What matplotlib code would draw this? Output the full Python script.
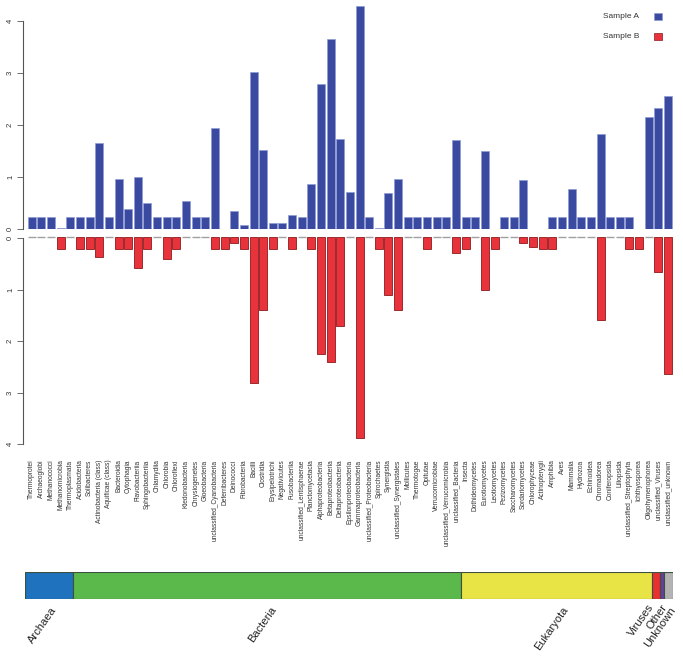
import matplotlib
matplotlib.use("Agg")
import matplotlib.pyplot as plt
import matplotlib.transforms as mtransforms
from matplotlib.patches import Rectangle
import numpy as np

plt.rcParams['font.family'] = ['Liberation Sans', 'DejaVu Sans']

categories = [
    "Thermoprotei", "Archaeoglobi", "Methanococci", "Methanomicrobia", "Thermoplasmata",
    "Acidobacteria", "Solibacteres", "Actinobacteria (class)", "Aquificae (class)", "Bacteroidia",
    "Cytophagia", "Flavobacteriia", "Sphingobacteriia", "Chlamydiia", "Chlorobia",
    "Chloroflexi", "Ktedonobacteria", "Chrysiogenetes", "Gloeobacteria", "unclassified_Cyanobacteria",
    "Deferribacteres", "Deinococci", "Fibrobacteria", "Bacilli", "Clostridia",
    "Erysipelotrichi", "Negativicutes", "Fusobacteriia", "unclassified_Lentisphaerae", "Planctomycetacia",
    "Alphaproteobacteria", "Betaproteobacteria", "Deltaproteobacteria", "Epsilonproteobacteria", "Gammaproteobacteria",
    "unclassified_Proteobacteria", "Spirochaetes", "Synergistia", "unclassified_Synergistales", "Mollicutes",
    "Thermotogae", "Opitutae", "Verrucomicrobiae", "unclassified_Verrucomicrobia", "unclassified_Bacteria",
    "Insecta", "Dothideomycetes", "Eurotiomycetes", "Leotiomycetes", "Pezizomycetes",
    "Saccharomycetes", "Sordariomycetes", "Chlorophyceae", "Actinopterygii", "Amphibia",
    "Aves", "Mammalia", "Hydrozoa", "Echinoidea", "Chromadorea",
    "Coniferopsida", "Liliopsida", "unclassified_Streptophyta", "Ichthyosporea", "Oligohymenophorea",
    "unclassified_Viruses", "unclassified_unknown",
]

sample_a = [
    0.23, 0.23, 0.23, 0.025, 0.23, 0.23, 0.23, 1.65, 0.23, 0.96,
    0.38, 1.01, 0.50, 0.23, 0.23, 0.23, 0.54, 0.23, 0.23, 1.94,
    0.0, 0.35, 0.08, 3.02, 1.52, 0.13, 0.13, 0.27, 0.23, 0.87,
    2.79, 3.64, 1.73, 0.72, 4.28, 0.23, 0.025, 0.69, 0.97, 0.23,
    0.23, 0.23, 0.23, 0.23, 1.72, 0.23, 0.23, 1.50, 0.0, 0.23,
    0.23, 0.95, 0.0, 0.0, 0.23, 0.23, 0.77, 0.23, 0.23, 1.83,
    0.23, 0.23, 0.23, 0.0, 2.15, 2.32, 2.55,
]

sample_b = [
    0.0, 0.0, 0.0, 0.22, 0.0, 0.22, 0.22, 0.39, 0.0, 0.22,
    0.22, 0.60, 0.22, 0.0, 0.43, 0.22, 0.0, 0.0, 0.0, 0.22,
    0.22, 0.12, 0.22, 2.82, 1.41, 0.22, 0.0, 0.22, 0.0, 0.22,
    2.27, 2.43, 1.72, 0.0, 3.89, 0.0, 0.22, 1.12, 1.41, 0.0,
    0.0, 0.22, 0.0, 0.0, 0.30, 0.22, 0.0, 1.02, 0.22, 0.0,
    0.0, 0.12, 0.18, 0.22, 0.22, 0.0, 0.0, 0.0, 0.0, 1.61,
    0.0, 0.0, 0.22, 0.22, 0.0, 0.67, 2.66,
]

y_ticks = [0, 1, 2, 3, 4]

domains = ["Archaea", "Bacteria", "Eukaryota", "Viruses", "Other", "Unknown"]
domain_share = [7.49, 59.73, 29.54, 1.23, 0.57, 1.43]
domain_colors = ["#1f72bd", "#5bb84b", "#e8e445", "#e8302f", "#6a3d9a", "#b3b3b3"]
label_shift = [0.2, 0.45, 0.75, -1.3, -0.15, 0.1]
label_y = [-0.21, -0.21, -0.21, -0.10, -0.12, -0.21]

legend_labels = ["Sample A", "Sample B"]

BLUE = "#3a4aa0"
RED = "#e8323c"

W, H = 683, 659
fig = plt.figure(figsize=(W / 100, H / 100), dpi=100)

def frac_box(x0, y_top, x1, y_bot):
    return [x0 / W, 1 - y_bot / H, (x1 - x0) / W, (y_bot - y_top) / H]

n = len(categories)
x = np.arange(n)
step = 9.64
cx0 = 31.8
xl = ((23 - cx0) / step, (676 - cx0) / step)
bw = 0.83

def style_axis(ax):
    for s in ["top", "right", "bottom"]:
        ax.spines[s].set_visible(False)
    ax.spines["left"].set_color("#555555")
    ax.spines["left"].set_linewidth(0.8)
    ax.spines["left"].set_bounds(0, 4)
    ax.set_xlim(*xl)
    ax.set_yticks(y_ticks)
    ax.set_yticklabels([str(t) for t in y_ticks], rotation=90, va="center",
                       fontsize=5.5, color="#333333")
    ax.tick_params(axis="y", length=4.3, width=0.6, color="#555555", pad=2.2)

# Top panel: Sample A
unit_top = (229.3 - 20.7) / 4
ax1 = fig.add_axes(frac_box(23, 0, 676, 229.3))
a_vals = np.array(sample_a)
ax1.bar(x, a_vals, width=bw, color=BLUE, edgecolor="#8e9bd6", linewidth=0.5)
ax1.set_ylim(0, 229.3 / unit_top)
style_axis(ax1)
ax1.set_xticks([])
ax1.patch.set_alpha(0)

# Bottom panel: Sample B (downwards)
ax2 = fig.add_axes(frac_box(23, 238.3, 676, 444.3))
b_vals = np.array(sample_b)
nz = b_vals > 0
ax2.bar(x[nz], b_vals[nz], width=bw, bottom=-0.02, color=RED, edgecolor="#8b1a1a",
        linewidth=0.6, clip_on=False)
ax2.hlines(np.full((~nz).sum(), -0.025), x[~nz] - bw / 2, x[~nz] + bw / 2,
           color="#a0a0a0", linewidth=1.0, clip_on=False)
ax2.set_ylim(4, 0)
style_axis(ax2)
ax2.set_xticks(x)
ax2.set_xticklabels(categories, rotation=90, fontsize=4.8, color="#333333",
                    ha="center", va="top")
ax2.tick_params(axis="x", length=0, pad=11)
ax2.patch.set_alpha(0)

# Legend (manual)
for lab, col, ec, yc in zip(legend_labels, [BLUE, RED], ["#8e9bd6", "#8b1a1a"], [16.7, 36.5]):
    fig.text(603 / W, 1 - yc / H, lab, fontsize=6, color="#333333", ha="left", va="center")
    fig.patches.append(Rectangle((654 / W, 1 - (yc + 3.6) / H), 8 / W, 7.2 / H,
                                 transform=fig.transFigure, facecolor=col,
                                 edgecolor=ec, linewidth=0.5))

# Domain strip
ax3 = fig.add_axes(frac_box(24.7, 572.3, 673.3, 599.3))
lefts = np.concatenate([[0], np.cumsum(domain_share)[:-1]])
ax3.barh([0], domain_share, left=lefts, height=1.0, color=domain_colors,
         edgecolor="#3f4f3f", linewidth=0.8)
ax3.set_xlim(0, sum(domain_share))
ax3.set_ylim(-0.5, 0.5)
ax3.axis("off")
trans = mtransforms.blended_transform_factory(ax3.transData, ax3.transAxes)
for lab, left, w, sh, ly in zip(domains, lefts, domain_share, label_shift, label_y):
    ax3.text(left + w / 2 + sh, ly, lab, transform=trans, rotation=55,
             rotation_mode="anchor", ha="right", va="top", fontsize=8,
             color="#222222")

fig.savefig("out.png", dpi=100)
